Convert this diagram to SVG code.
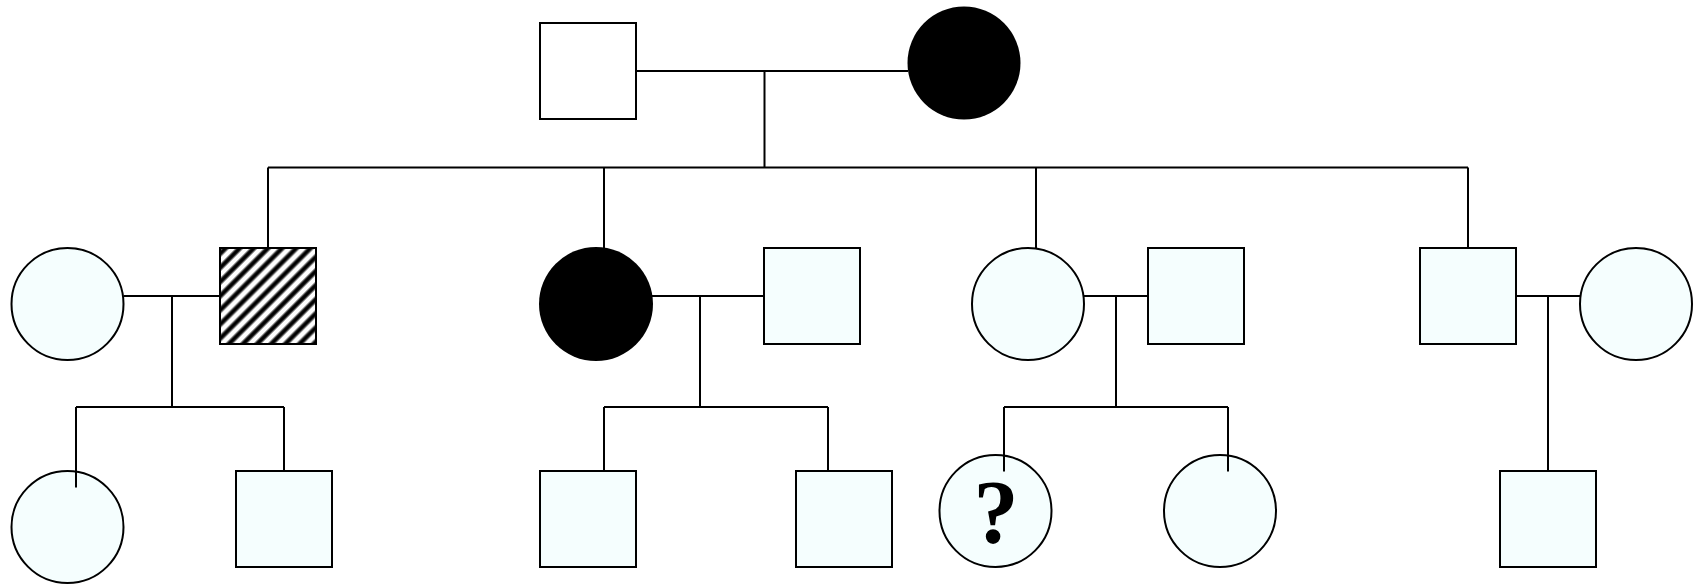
<svg xmlns="http://www.w3.org/2000/svg" width="1695" height="585" viewBox="0 0 1695 585">
<style>
.ln{stroke:#000;stroke-width:2;fill:none}
.nd{stroke:#000;stroke-width:2;fill:#f5fefe}
.wh{stroke:#000;stroke-width:2;fill:#fff}
.bk{stroke:none;fill:#000}
.q{font-family:"Liberation Serif","DejaVu Serif",serif;font-weight:bold;font-size:90px;text-anchor:middle;fill:#000}
</style>
<defs>
<linearGradient id="sg" x1="0" y1="0" x2="1" y2="0">
<stop offset="0" stop-color="#fff"/>
<stop offset="0.15" stop-color="#fff"/>
<stop offset="0.38" stop-color="#000"/>
<stop offset="0.62" stop-color="#000"/>
<stop offset="0.85" stop-color="#fff"/>
<stop offset="1" stop-color="#fff"/>
</linearGradient>
<pattern id="hatch" x="220" y="248" width="10" height="10" patternUnits="userSpaceOnUse" patternTransform="rotate(45)">
<rect x="0" y="0" width="10" height="10" fill="url(#sg)"/>
</pattern>
</defs>
<g id="connectors">
<path class="ln" d="M636,71 H908 M764.5,71 V167.5 M268,167.5 H1468 M268,167.5 V248 M604,167.5 V249 M1036,167.5 V248 M1468,167.5 V248"/>
<path class="ln" d="M123.5,296 H220 M172,296 V407 M76,407 H284 M76,407 V487.5 M284,407 V471"/>
<path class="ln" d="M652,296 H764 M700,296 V407 M604,407 H828 M604,407 V471 M828,407 V471"/>
<path class="ln" d="M1084,296 H1148 M1116,296 V407 M1004,407 H1228 M1004,407 V471.5 M1228,407 V471.5"/>
<path class="ln" d="M1516,296 H1580 M1548,296 V471"/>
</g>
<g id="gen1-father"><rect class="wh" x="540" y="23" width="96" height="96"/></g>
<g id="gen1-mother"><circle class="bk" cx="964" cy="63" r="56.5"/></g>
<g id="gen2-wife1"><circle class="nd" cx="67.5" cy="304" r="56"/></g>
<g id="gen2-son1"><rect x="220" y="248" width="96" height="96" fill="url(#hatch)" stroke="#000" stroke-width="2"/></g>
<g id="gen2-daughter1"><circle class="bk" cx="596" cy="304" r="57"/></g>
<g id="gen2-husband1"><rect class="nd" x="764" y="248" width="96" height="96"/></g>
<g id="gen2-daughter2"><circle class="nd" cx="1028" cy="304" r="56"/></g>
<g id="gen2-husband2"><rect class="nd" x="1148" y="248" width="96" height="96"/></g>
<g id="gen2-son2"><rect class="nd" x="1420" y="248" width="96" height="96"/></g>
<g id="gen2-wife2"><circle class="nd" cx="1636" cy="304" r="56"/></g>
<g id="gen3-a1"><circle class="nd" cx="67.5" cy="527" r="56"/></g>
<g id="gen3-a2"><rect class="nd" x="236" y="471" width="96" height="96"/></g>
<g id="gen3-b1"><rect class="nd" x="540" y="471" width="96" height="96"/></g>
<g id="gen3-b2"><rect class="nd" x="796" y="471" width="96" height="96"/></g>
<g id="gen3-c1"><circle class="nd" cx="995.5" cy="511" r="56"/><text class="q" x="996" y="543">?</text></g>
<g id="gen3-c2"><circle class="nd" cx="1220" cy="511" r="56"/></g>
<g id="gen3-d1"><rect class="nd" x="1500" y="471" width="96" height="96"/></g>
<path class="ln" d="M76,471 V487.5 M1004,455 V471.5 M1228,455 V471.5"/>
</svg>
